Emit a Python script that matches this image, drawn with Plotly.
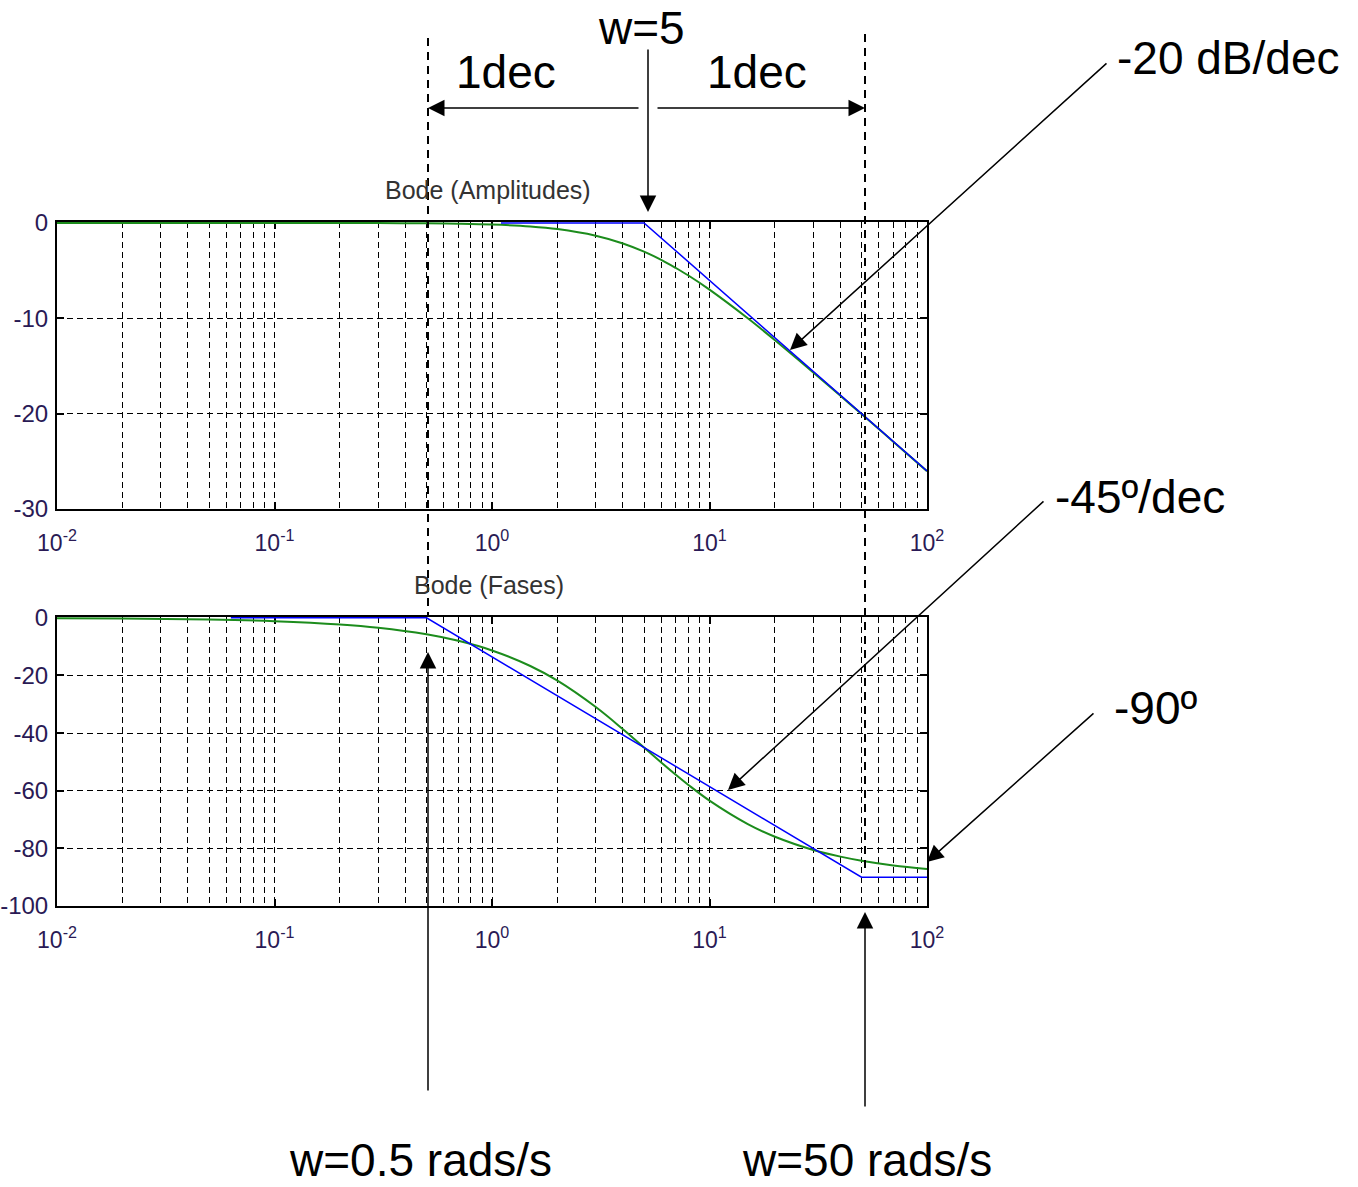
import plotly.graph_objects as go

W, H = 1358, 1187

# ---------------- data ----------------
w_real = [0.01, 0.02, 0.05, 0.1, 0.2, 0.3, 0.5, 0.7, 1, 1.5, 2, 3, 4, 5, 6, 7, 8,
          10, 15, 20, 30, 40, 50, 70, 100]
mag_real = [0.0, 0.0, 0.0, -0.002, -0.007, -0.016, -0.043, -0.085, -0.17, -0.37,
            -0.64, -1.34, -2.15, -3.01, -3.87, -4.72, -5.51, -6.99, -10.0, -12.3,
            -15.68, -18.13, -20.04, -22.94, -26.03]
phase_real = [-0.11, -0.23, -0.57, -1.15, -2.29, -3.43, -5.71, -7.97, -11.31, -16.70,
              -21.80, -30.96, -38.66, -45.0, -50.19, -54.46, -57.99, -63.43, -71.57,
              -75.96, -80.54, -82.87, -84.29, -85.91, -87.14]

w_mag_asym = [1.1, 5, 100]
mag_asym = [0, 0, -26.02]

w_ph_asym = [0.063, 0.5, 50, 100]
ph_asym = [0, 0, -90, -90]

x_major = [0.01, 0.1, 1, 10, 100]
x_major_text = ["10<sup>-2</sup>", "10<sup>-1</sup>", "10<sup>0</sup>", "10<sup>1</sup>", "10<sup>2</sup>"]
x_minor = [m * d for d in [0.01, 0.1, 1, 10] for m in range(2, 10)]

y1_ticks = [0, -10, -20, -30]
y1_text = ["0", "-10", "-20", "-30"]
y2_ticks = [0, -20, -40, -60, -80, -100]
y2_text = ["0", "-20", "-40", "-60", "-80", "-100"]

# ---------------- helpers ----------------
def px(x):
    return x / W

def py(y):
    return 1 - y / H

FONT = "Liberation Sans, Arial, sans-serif"
TICKCOL = "#2a1a55"
GRIDDASH = "6px,4px"

fig = go.Figure()
fig.add_trace(go.Scatter(x=w_real, y=mag_real, mode="lines", line=dict(color="#1c8c1c", width=2),
                         xaxis="x", yaxis="y", line_shape="spline"))
fig.add_trace(go.Scatter(x=w_mag_asym, y=mag_asym, mode="lines", line=dict(color="#0000ff", width=1.5),
                         xaxis="x", yaxis="y"))
fig.add_trace(go.Scatter(x=w_real, y=phase_real, mode="lines", line=dict(color="#1c8c1c", width=2),
                         xaxis="x2", yaxis="y2", line_shape="spline"))
fig.add_trace(go.Scatter(x=w_ph_asym, y=ph_asym, mode="lines", line=dict(color="#0000ff", width=1.5),
                         xaxis="x2", yaxis="y2"))

xdom = [px(57), px(927)]
common_x = dict(type="log", range=[-2, 2], tickvals=x_major, ticktext=x_major_text,
                ticks="inside", ticklen=7, tickwidth=1.5, tickcolor="black",
                showline=True, linecolor="black", linewidth=2, mirror="ticks",
                showgrid=True, gridcolor="black", gridwidth=1.2, griddash=GRIDDASH,
                minor=dict(tickvals=x_minor, showgrid=True, gridcolor="black", gridwidth=1.2,
                           griddash=GRIDDASH, ticks=""),
                tickfont=dict(family=FONT, size=23, color=TICKCOL),
                ticklabelstandoff=12, zeroline=False, layer="below traces", domain=xdom,
                automargin=False)
common_y = dict(ticks="inside", ticklen=7, tickwidth=1.5, tickcolor="black",
                showline=True, linecolor="black", linewidth=2, mirror="ticks",
                showgrid=True, gridcolor="black", gridwidth=1.2, griddash=GRIDDASH,
                tickfont=dict(family=FONT, size=24, color=TICKCOL),
                zeroline=False, layer="below traces", ticklabelstandoff=2, automargin=False)

fig.update_layout(
    width=W, height=H, showlegend=False,
    margin=dict(l=0, r=0, t=0, b=0, pad=0, autoexpand=False),
    paper_bgcolor="white", plot_bgcolor="white",
    xaxis=dict(common_x, anchor="y"),
    yaxis=dict(common_y, range=[-30, 0.1], tickvals=y1_ticks, ticktext=y1_text,
               domain=[py(509), py(222)], anchor="x"),
    xaxis2=dict(common_x, anchor="y2"),
    yaxis2=dict(common_y, range=[-100, 0.3], tickvals=y2_ticks, ticktext=y2_text,
                domain=[py(906), py(617)], anchor="x2"),
)

annos = []
def text(t, x, y, size, color="black"):
    annos.append(dict(text=t, x=px(x), y=py(y), xref="paper", yref="paper", showarrow=False,
                      xanchor="center", yanchor="middle",
                      font=dict(family=FONT, size=size, color=color)))

def arrow(hx, hy, tx, ty):
    annos.append(dict(text="", x=px(hx), y=py(hy), xref="paper", yref="paper", showarrow=True,
                      ax=tx - hx, ay=ty - hy, axref="pixel", ayref="pixel",
                      arrowhead=2, arrowsize=2.2, arrowwidth=1.5, arrowcolor="black"))

text("Bode (Amplitudes)", 488, 190, 25, "#333333")
text("Bode (Fases)", 489, 585, 25, "#333333")
text("w=5", 641, 28, 46)
text("1dec", 506, 72, 46)
text("1dec", 757, 72, 46)
text("-20 dB/dec", 1228, 58, 46)
text("-45º/dec", 1140, 497, 46)
text("-90º", 1155, 708, 46)
text("w=0.5 rads/s", 420, 1160, 46)
text("w=50 rads/s", 867, 1160, 46)

arrow(648, 212, 648, 48)
arrow(428, 108, 640, 108)
arrow(865, 108, 656, 108)
arrow(790, 350, 1108, 62)
arrow(728, 790, 1045, 500)
arrow(927, 862, 1095, 712)
arrow(428, 652, 428, 1092)
arrow(865, 912, 865, 1108)

shapes = [
    dict(type="line", xref="paper", yref="paper", x0=px(428), x1=px(428), y0=py(38), y1=py(617),
         line=dict(color="black", width=2, dash="8px,6px")),
    dict(type="line", xref="paper", yref="paper", x0=px(865), x1=px(865), y0=py(34), y1=py(870),
         line=dict(color="black", width=2, dash="8px,6px")),
]

fig.update_layout(annotations=annos, shapes=shapes)
fig.write_html("out.html", config={"displayModeBar": False},
               post_script="document.body.style.margin='0';document.body.style.overflow='hidden';")
